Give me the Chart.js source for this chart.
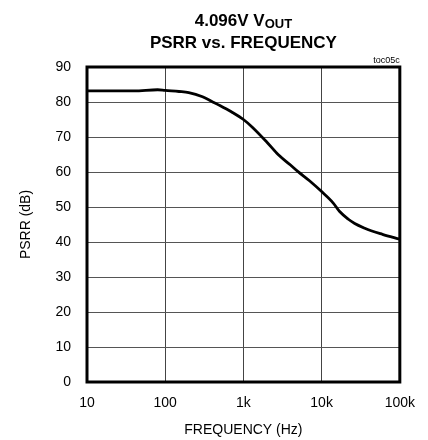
<!DOCTYPE html>
<html>
<head>
<meta charset="utf-8">
<script src="https://cdn.jsdelivr.net/npm/chart.js@4"></script>
<style>
  html, body { margin: 0; padding: 0; background: #fff; }
  #wrap { width: 428px; height: 440px; position: relative; }
</style>
</head>
<body>
<div id="wrap"><canvas id="psrrChart" width="428" height="440"></canvas></div>
<script>
// frequency (Hz) and PSRR (dB)
const freqHz = [10, 20, 40, 80, 100, 150, 200, 300, 400, 500, 700, 1000, 1300, 2000, 2800, 4000, 5000, 7000, 10000, 14000, 17000, 22000, 26500, 35000, 43000, 60000, 100000];
const psrrDb = [83.2, 83.2, 83.2, 83.5, 83.3, 83.0, 82.7, 81.5, 80.1, 79.0, 77.2, 75.0, 72.8, 68.5, 64.9, 62.0, 60.1, 57.5, 54.4, 51.2, 48.7, 46.5, 45.3, 44.0, 43.2, 42.2, 40.8];
const xTicks = [10, 100, 1000, 10000, 100000];
const xTickLabels = ["10", "100", "1k", "10k", "100k"];
const yMin = 0, yMax = 90, yStep = 10;

const FONT = "'Liberation Sans', Arial, sans-serif";

const frameAndTitles = {
    id: "frameAndTitles",
    afterDraw(chart) {
        const { ctx, chartArea: a } = chart;
        ctx.save();
        ctx.strokeStyle = "#000";
        ctx.lineWidth = 3;
        ctx.strokeRect(a.left, a.top, a.right - a.left, a.bottom - a.top);

        ctx.fillStyle = "#000";
        ctx.textBaseline = "alphabetic";
        // title line 1 with subscript
        const cx = (a.left + a.right) / 2;
        ctx.font = "bold 17px " + FONT;
        const main = "4.096V V";
        const wMain = ctx.measureText(main).width;
        ctx.font = "bold 13px " + FONT;
        const sub = "OUT";
        const wSub = ctx.measureText(sub).width;
        const x0 = cx - (wMain + wSub) / 2;
        ctx.textAlign = "left";
        ctx.font = "bold 17px " + FONT;
        ctx.fillText(main, x0, 26);
        ctx.font = "bold 13px " + FONT;
        ctx.fillText(sub, x0 + wMain, 28);
        // title line 2
        ctx.textAlign = "center";
        ctx.font = "bold 17px " + FONT;
        ctx.fillText("PSRR vs. FREQUENCY", cx, 48);
        // figure tag
        ctx.textAlign = "right";
        ctx.font = "9px " + FONT;
        ctx.fillText("toc05c", a.right, 63);
        ctx.restore();
    }
};

new Chart(document.getElementById("psrrChart"), {
    type: "line",
    data: {
        datasets: [{
            data: freqHz.map((f, i) => ({ x: f, y: psrrDb[i] })),
            borderColor: "#000",
            borderWidth: 2.8,
            pointRadius: 0,
            cubicInterpolationMode: "monotone",
            fill: false
        }]
    },
    options: {
        responsive: false,
        animation: false,
        layout: { padding: { top: 67, right: 26, left: 0, bottom: 0 } },
        plugins: { legend: { display: false }, tooltip: { enabled: false }, title: { display: false } },
        scales: {
            x: {
                type: "logarithmic",
                min: 10,
                max: 100000,
                afterBuildTicks: (axis) => { axis.ticks = xTicks.map(v => ({ value: v })); },
                afterFit: (axis) => { axis.height = 58; },
                ticks: {
                    color: "#000",
                    font: { family: FONT, size: 14 },
                    padding: 13,
                    maxRotation: 0,
                    autoSkip: false,
                    callback: (v) => xTickLabels[xTicks.indexOf(v)] ?? ""
                },
                grid: { color: "#444", lineWidth: 1, drawTicks: false },
                border: { display: false },
                title: { display: true, text: "FREQUENCY (Hz)", color: "#000", font: { family: FONT, size: 14 }, padding: { top: 0, bottom: 1 } }
            },
            y: {
                min: yMin,
                max: yMax,
                afterFit: (axis) => { axis.width = 87; },
                ticks: {
                    stepSize: yStep,
                    color: "#000",
                    font: { family: FONT, size: 14 },
                    padding: 16
                },
                grid: { color: "#555", lineWidth: 1, drawTicks: false },
                border: { display: false },
                title: { display: true, text: "PSRR (dB)", color: "#000", font: { family: FONT, size: 14 }, padding: { top: 18, bottom: 0 } }
            }
        }
    },
    plugins: [frameAndTitles]
});
</script>
</body>
</html>
